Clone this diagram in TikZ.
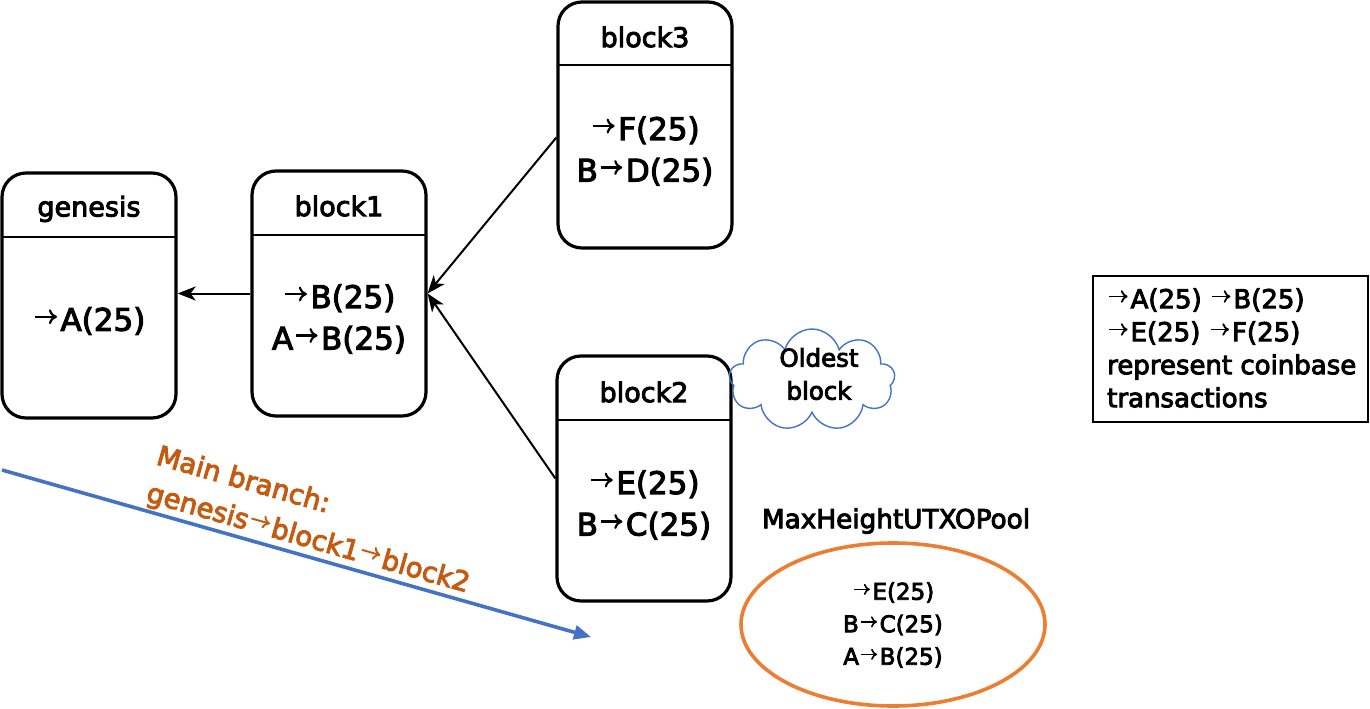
\documentclass[tikz,border=0pt]{standalone}
\usepackage{fontspec}
\setmainfont{DejaVu Sans}[FakeBold=3.5]
\usetikzlibrary{arrows.meta,shapes.symbols,shapes.geometric,calc}
\definecolor{oblue}{HTML}{4472C4}
\definecolor{oorange}{HTML}{ED7D31}
\definecolor{dorange}{HTML}{C55A11}
\newcommand\arr{\kern0.05em\tikz[baseline=0pt,x=1em,y=1em]\draw[line width=0.07em,-{To[length=0.26em,width=0.48em]}] (0,0.45)--(0.7,0.45);\kern0.08em}
\tikzset{
  blockbox/.style={draw, line width=3.2pt, rounded corners=24pt, minimum width=174pt, minimum height=245pt, inner sep=0pt},
  divider/.style={line width=1.5pt},
  head/.style={font=\fontsize{27}{30}\selectfont},
  body/.style={font=\fontsize{31}{41.5}\selectfont, align=center},
  link/.style={line width=2pt, -{Stealth[length=18pt,width=14pt,inset=5pt]}},
  branch/.style={font=\fontsize{27.4}{30}\selectfont, text=dorange, rotate=-15.87, anchor=base west, inner sep=0pt},
}
\begin{document}
\begin{tikzpicture}[x=1pt,y=-1pt]
\useasboundingbox (0,0) rectangle (1370,709);
% blocks
\node[blockbox] (g) at (89,295.5) {};
\draw[divider] (2,237) -- (176,237);
\node[head] (gh) at (89,209) {genesis};
\node[body] (gb) at (89,321) {\arr A(25)};

\node[blockbox] (b1) at (339,293.5) {};
\draw[divider] (252,235) -- (426,235);
\node[head] (b1h) at (339,206) {block1};
\node[body] (b1b) at (339,319) {\arr B(25)\\A\arr B(25)};

\node[blockbox, minimum height=246pt] (b3) at (645,125) {};
\draw[divider] (558,65) -- (732,65);
\node[head] (b3h) at (645,37) {block3};
\node[body] (b3b) at (645,151) {\arr F(25)\\B\arr D(25)};

\node[blockbox] (b2) at (644,478.5) {};
\draw[divider] (557,420) -- (731,420);
\node[head] (b2h) at (644,392) {block2};
\node[body] (b2b) at (644,505) {\arr E(25)\\B\arr C(25)};

% links
\draw[link] (b1.west) -- (b1.west -| g.east);
\draw[link] (b3.188) -- (b1.east);
\draw[link] (b2.west) -- (b1.east);

% cloud
\node[cloud, cloud puffs=9, aspect=1.8, draw=oblue, line width=1.4pt, minimum width=166pt, minimum height=102pt, inner sep=0pt] (cl) at (812,380) {};
\node[align=center, font=\fontsize{24.5}{33}\selectfont] (clt) at (819,374) {Oldest\\block};

% main branch
\coordinate (ms) at (2,470);
\coordinate (me) at (591,637);
\draw[oblue, line width=3.6pt, -{Triangle[length=17pt,width=14pt]}] (ms) -- (me);
\node[branch] (mt1) at (155,464) {Main branch:};
\node[branch] (mt2) at (145,501) {genesis\arr block1\arr block2};

% pool
\node[font=\fontsize{26.3}{33}\selectfont] (pt) at (896,521) {MaxHeightUTXOPool};
\node[ellipse, draw=oorange, line width=3.6pt, minimum width=304pt, minimum height=163pt, inner sep=0pt] (pool) at (893,624.5) {};
\node[align=center, font=\fontsize{23}{32.5}\selectfont] (ptx) at (893,625) {\arr E(25)\\B\arr C(25)\\A\arr B(25)};

% legend
\node[draw, line width=1.5pt, minimum width=275pt, minimum height=146pt, inner sep=0pt] (lg) at (1230.5,349) {};
\node[align=left, anchor=west, inner sep=0pt, font=\fontsize{26}{33}\selectfont] (lgt) at (1107,348) {\arr A(25) \arr B(25)\\\arr E(25) \arr F(25)\\represent coinbase\\transactions};
\end{tikzpicture}
\end{document}
